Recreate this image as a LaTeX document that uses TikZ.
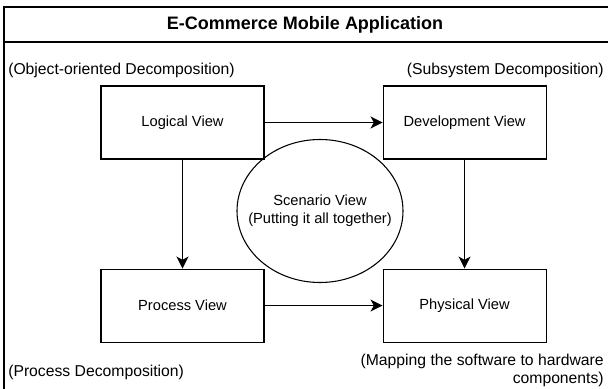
\documentclass[tikz,border=0pt]{standalone}
\usepackage{fontspec}
\setmainfont{Liberation Sans}
\usetikzlibrary{shapes.geometric, arrows.meta, positioning}

\begin{document}
\begin{tikzpicture}[
        x=0.75pt, y=-0.75pt,
        node distance=81.75pt and 88.5pt,
        view/.style={rectangle, draw, line width=0.8pt, minimum width=122.25pt, minimum height=54.75pt, font=\fontsize{11}{13}\selectfont},
        note/.style={inner sep=0pt, font=\fontsize{11.8}{13.5}\selectfont},
        link/.style={-{Stealth[length=9pt, width=9pt, inset=2.5pt]}, line width=0.9pt}
    ]
    \useasboundingbox (0,0) rectangle (608,389);

    % Frame
    \draw[line width=1pt] (4,7) rectangle (614,396);
    \draw[line width=1pt] (4,42) -- (614,42);
    \node[font=\bfseries\fontsize{13.5}{16}\selectfont] (title) at (305,25) {E-Commerce Mobile Application};

    % Views
    \node[view] (logical) at (182.5,122.5) {Logical View};
    \node[view, right=of logical] (development) {Development View};
    \node[view, below=of logical] (process) {Process View};
    \node[view, below=of development] (physical) {Physical View};
    \node[ellipse, draw, line width=0.8pt, inner xsep=-18pt, inner ysep=0pt, minimum width=124.5pt, minimum height=107.25pt, align=center, font=\fontsize{11}{13.5}\selectfont] (scenario) at (320,211) {Scenario View\\(Putting it all together)};

    % Notes
    \node[note, anchor=west] (objnote) at (8,70) {(Object-oriented Decomposition)};
    \node[note, anchor=east] (subsysnote) at (604,70) {(Subsystem Decomposition)};
    \node[note, anchor=west] (procnote) at (8,372) {(Process Decomposition)};
    \node[note, anchor=east, align=right] (mapnote) at (604,370) {(Mapping the software to hardware\\components)};

    % Connections
    \draw[link] (logical) -- (development);
    \draw[link] (logical) -- (process);
    \draw[link] (development) -- (physical);
    \draw[link] (process) -- (physical);
\end{tikzpicture}
\end{document}
